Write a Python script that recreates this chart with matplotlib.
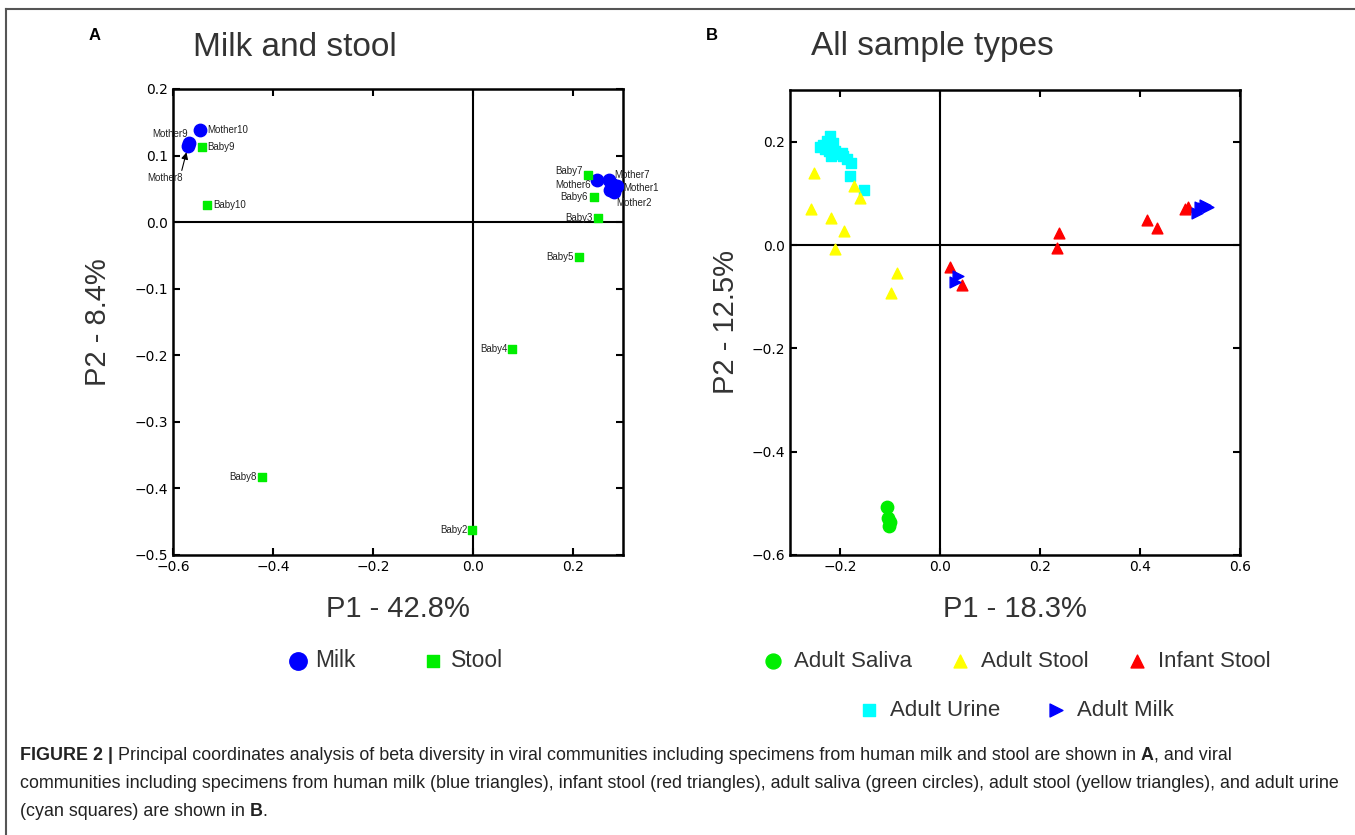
import numpy as np
import matplotlib
matplotlib.use("Agg")
import matplotlib.pyplot as plt
from matplotlib.lines import Line2D

plt.rcParams.update({"font.family": ["Liberation Sans", "DejaVu Sans"]})

# ---- Panel A data (milk and stool) ----
milk_names = ["Mother1", "Mother2", "Mother3", "Mother4", "Mother5",
              "Mother6", "Mother7", "Mother8", "Mother9", "Mother10"]
milk_x = [0.287, 0.281, 0.277, 0.284, 0.274, 0.247, 0.271, -0.570, -0.568, -0.547]
milk_y = [0.054, 0.045, 0.0575, 0.052, 0.048, 0.064, 0.0635, 0.114, 0.1185, 0.139]

stool_names = ["Baby2", "Baby3", "Baby4", "Baby5", "Baby6",
               "Baby7", "Baby8", "Baby9", "Baby10"]
stool_x = [-0.0013, 0.249, 0.0787, 0.2127, 0.242, 0.230, -0.422, -0.543, -0.533]
stool_y = [-0.463, 0.006, -0.1907, -0.053, 0.038, 0.0714, -0.383, 0.1125, 0.025]

# ---- Panel B data (all sample types) ----
saliva_x = [-0.1053, -0.1033, -0.1013, -0.100]
saliva_y = [-0.508, -0.529, -0.5437, -0.537]

astool_x = [-0.252, -0.2573, -0.2187, -0.1913, -0.210, -0.1713, -0.160, -0.0867, -0.098]
astool_y = [0.139, 0.0693, 0.053, 0.0272, -0.0078, 0.1133, 0.0913, -0.055, -0.0926]

istool_x = [0.020, 0.0433, 0.2373, 0.2333, 0.4147, 0.4347, 0.490, 0.4967]
istool_y = [-0.042, -0.0777, 0.0227, -0.0052, 0.0485, 0.0324, 0.0693, 0.0732]

urine_x = [-0.220, -0.2253, -0.2133, -0.240, -0.230, -0.2213, -0.210, -0.2187,
           -0.2067, -0.1967, -0.1933, -0.1853, -0.1787, -0.180, -0.152, -0.2347]
urine_y = [0.2117, 0.2006, 0.1974, 0.1896, 0.1857, 0.1812, 0.1812, 0.1715,
           0.1767, 0.178, 0.1715, 0.1663, 0.1586, 0.1327, 0.1055, 0.1942]

amilk_x = [0.0367, 0.030, 0.5133, 0.520, 0.530, 0.5367, 0.5253]
amilk_y = [-0.060, -0.071, 0.0615, 0.0744, 0.0777, 0.0744, 0.0712]

# label offsets (points) for the named points in panel A
label_pos = {
    "Mother10": (5.5, 0, "left"), "Mother9": (-1, 7, "right"),
    "Mother7": (4.3, 3.6, "left"), "Mother6": (-4.3, -3.6, "right"),
    "Mother1": (5, -1.4, "left"), "Mother2": (1.7, -8, "left"),
    "Baby2": (-3.6, 0, "right"), "Baby3": (-3.6, 0, "right"),
    "Baby4": (-3.6, 0, "right"), "Baby5": (-4.3, 0, "right"),
    "Baby6": (-4.3, 0, "right"), "Baby7": (-3.6, 2.4, "right"),
    "Baby8": (-3.6, 0, "right"), "Baby9": (4.3, 0, "left"),
    "Baby10": (5, 0, "left"),
}

GREY = "#333333"

fig = plt.figure(figsize=(13.55, 8.35), dpi=100)

# frame around the figure (top and left edges visible)
fig.add_artist(Line2D([6 / 1355, 6 / 1355], [0, 1 - 9 / 835], color="#555555", lw=1.5))
fig.add_artist(Line2D([6 / 1355, 1], [1 - 9 / 835, 1 - 9 / 835], color="#555555", lw=1.5))


def style_axes(ax):
    for s in ax.spines.values():
        s.set_linewidth(1.8)
    ax.tick_params(direction="in", top=True, right=True, length=5, width=1.5,
                   labelsize=10)
    for lab in ax.get_xticklabels() + ax.get_yticklabels():
        lab.set_family("DejaVu Sans")
    ax.axhline(0, color="black", lw=1.5, zorder=1)
    ax.axvline(0, color="black", lw=1.5, zorder=1)


# ---------------- Panel A ----------------
axA = fig.add_axes([173 / 1355, 1 - 555 / 835, 450 / 1355, 466 / 835])
axA.scatter(milk_x, milk_y, s=80, marker="o", color="#0000FF", label="Milk", zorder=3)
axA.scatter(stool_x, stool_y, s=34, marker="s", color="#00EE00", label="Stool", zorder=3)
axA.set_xlim(-0.6, 0.3)
axA.set_ylim(-0.5, 0.2)
axA.set_xticks([-0.6, -0.4, -0.2, 0.0, 0.2])
axA.set_yticks(np.arange(-0.5, 0.21, 0.1))
style_axes(axA)

all_names = milk_names + stool_names
all_x = milk_x + stool_x
all_y = milk_y + stool_y
for n, x, y in zip(all_names, all_x, all_y):
    if n in label_pos:
        dx, dy, ha = label_pos[n]
        axA.annotate(n, (x, y), xytext=(dx, dy), textcoords="offset points",
                     ha=ha, va="center", fontsize=7, color="#222222", zorder=4)
i8 = milk_names.index("Mother8")
axA.annotate("Mother8", (milk_x[i8], milk_y[i8]), xytext=(-16.5, -23),
             textcoords="offset points", ha="center", va="center", fontsize=7,
             color="#222222",
             arrowprops=dict(arrowstyle="-|>", color="black", lw=0.8,
                             shrinkA=0, shrinkB=4.5, relpos=(0.95, 1.0),
                             mutation_scale=10))

axA.set_xlabel("P1 - 42.8%", fontsize=21, color=GREY)
axA.set_ylabel("P2 - 8.4%", fontsize=21, color=GREY)
axA.xaxis.set_label_coords(0.5, -0.086)
axA.yaxis.set_label_coords(-0.136, 0.5)
axA.legend(loc="center", bbox_to_anchor=(0.49, -0.227), ncol=2, frameon=False,
           fontsize=16.5, labelcolor=GREY, markerscale=1.4, handletextpad=0.15,
           columnspacing=2.8, handlelength=1.2)

# ---------------- Panel B ----------------
axB = fig.add_axes([790 / 1355, 1 - 555 / 835, 450 / 1355, 465 / 835])
h_sal = axB.scatter(saliva_x, saliva_y, s=80, marker="o", color="#00EE00", label="Adult Saliva", zorder=3)
h_ast = axB.scatter(astool_x, astool_y, s=60, marker="^", color="#FFFF00", label="Adult Stool", zorder=3)
h_ist = axB.scatter(istool_x, istool_y, s=60, marker="^", color="#FF0000", label="Infant Stool", zorder=3)
h_uri = axB.scatter(urine_x, urine_y, s=48, marker="s", color="#00FFFF", label="Adult Urine", zorder=2.5)
h_mil = axB.scatter(amilk_x, amilk_y, s=60, marker=">", color="#0000FF", label="Adult Milk", zorder=3)
axB.set_xlim(-0.3, 0.6)
axB.set_ylim(-0.6, 0.3)
axB.set_xticks([-0.2, 0.0, 0.2, 0.4, 0.6])
axB.set_yticks([-0.6, -0.4, -0.2, 0.0, 0.2])
style_axes(axB)
axB.set_xlabel("P1 - 18.3%", fontsize=21, color=GREY)
axB.set_ylabel("P2 - 12.5%", fontsize=21, color=GREY)
axB.xaxis.set_label_coords(0.5, -0.086)
axB.yaxis.set_label_coords(-0.111, 0.5)

leg1 = axB.legend(handles=[h_sal, h_ast, h_ist], loc="center",
                  bbox_to_anchor=(0.5, -0.228), ncol=3, frameon=False,
                  fontsize=16, labelcolor=GREY, markerscale=1.2,
                  handletextpad=0.35, columnspacing=1.55, handlelength=1.2)
axB.add_artist(leg1)
axB.legend(handles=[h_uri, h_mil], loc="center", bbox_to_anchor=(0.5, -0.335),
           ncol=2, frameon=False, fontsize=16, labelcolor=GREY,
           markerscale=1.2, handletextpad=0.35, columnspacing=1.9,
           handlelength=1.2)

# titles and panel letters
fig.text(193 / 1355, 1 - 47 / 835, "Milk and stool", fontsize=24, color=GREY,
         ha="left", va="center")
fig.text(811 / 1355, 1 - 47 / 835, "All sample types", fontsize=24, color=GREY,
         ha="left", va="center")
fig.text(95 / 1355, 1 - 36 / 835, "A", fontsize=12, fontweight="bold", ha="center", va="center")
fig.text(712 / 1355, 1 - 36 / 835, "B", fontsize=12, fontweight="bold", ha="center", va="center")

# caption, drawn piece by piece so the bold parts sit inline
cap_family = ["Liberation Sans Narrow", "Liberation Sans"]
cap_lines = [
    [("FIGURE 2 |", True),
     (" Principal coordinates analysis of beta diversity in viral communities including specimens from human milk and stool are shown in ", False),
     ("A", True), (", and viral", False)],
    [("communities including specimens from human milk (blue triangles), infant stool (red triangles), adult saliva (green circles), adult stool (yellow triangles), and adult urine", False)],
    [("(cyan squares) are shown in ", False), ("B", True), (".", False)],
]
renderer = fig.canvas.get_renderer()
for k, parts in enumerate(cap_lines):
    x = 20 / 1355
    y = 1 - (755 + 28 * k) / 835
    for txt, bold in parts:
        t = fig.text(x, y, txt, fontsize=12.85, family=cap_family, color="#222222",
                     fontweight="bold" if bold else "normal", ha="left", va="center")
        bb = t.get_window_extent(renderer)
        x = bb.x1 / fig.bbox.width

fig.savefig("out.png", dpi=100)
